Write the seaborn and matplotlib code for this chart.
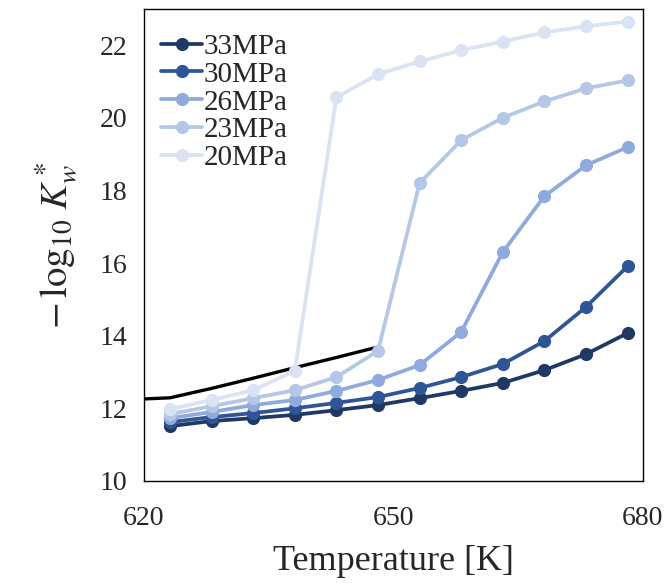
import seaborn as sns
import matplotlib.pyplot as plt
import pandas as pd

# Temperatures (K) and -log10 Kw* per pressure
temperature = [623.15, 628.15, 633.15, 638.15, 643.15, 648.15,
               653.15, 658.15, 663.15, 668.15, 673.15, 678.15]
kw_33 = [11.51, 11.65, 11.73, 11.82, 11.95, 12.09, 12.28, 12.48, 12.70, 13.05, 13.49, 14.07]
kw_30 = [11.62, 11.76, 11.87, 12.00, 12.15, 12.31, 12.56, 12.86, 13.22, 13.85, 14.79, 15.91]
kw_26 = [11.73, 11.90, 12.09, 12.23, 12.48, 12.78, 13.19, 14.10, 16.30, 17.84, 18.69, 19.19]
kw_23 = [11.84, 12.06, 12.28, 12.50, 12.86, 13.58, 18.20, 19.38, 20.00, 20.45, 20.81, 21.03]
kw_20 = [11.98, 12.23, 12.50, 13.03, 20.56, 21.20, 21.55, 21.86, 22.10, 22.35, 22.52, 22.65]

# black reference curve (no legend entry)
ref_temperature = [618.15, 623.15, 628.15, 633.15, 638.15, 643.15, 648.15]
ref_kw = [12.24, 12.29, 12.55, 12.83, 13.12, 13.40, 13.69]

labels = ['33MPa', '30MPa', '26MPa', '23MPa', '20MPa']
series = [kw_33, kw_30, kw_26, kw_23, kw_20]
colors = ['#203864', '#2F5597', '#8FAADC', '#B4C7E7', '#DAE3F3']

sns.set_style('white')
plt.rcParams['font.family'] = ['Liberation Serif', 'DejaVu Serif']
plt.rcParams['mathtext.fontset'] = 'stix'

fig, ax = plt.subplots(figsize=(6.69, 5.88), dpi=100)
fig.subplots_adjust(left=0.215, right=0.961, bottom=0.182, top=0.985)

sns.lineplot(x=ref_temperature, y=ref_kw, color='black', linewidth=2.4, ax=ax)

for lab, vals, c in zip(labels, series, colors):
    df = pd.DataFrame({'T': temperature, 'K': vals})
    sns.lineplot(data=df, x='T', y='K', color=c, marker='o', markersize=9.5,
                 markeredgewidth=0, linewidth=2.7, label=lab, ax=ax)

ax.set_xlim(620, 680)
ax.set_ylim(10, 23)
ax.set_xticks([620, 650, 680])
ax.set_yticks([10, 12, 14, 16, 18, 20, 22])
ax.tick_params(axis='x', labelsize=20, length=0, pad=18)
ax.tick_params(axis='y', labelsize=20, length=0, pad=12)
ax.set_xlabel('Temperature [K]', fontsize=26, labelpad=10)
ax.set_ylabel(r'$-\,\log_{10}\,K_w^*$', fontsize=28, labelpad=14)

for s in ax.spines.values():
    s.set_color('black')
    s.set_linewidth(1.0)

ax.legend(loc='upper left', bbox_to_anchor=(0.0, 0.985), frameon=False,
          fontsize=21, handlelength=1.4, handletextpad=0.05,
          labelspacing=0.05, borderaxespad=0.2, borderpad=0.4)

plt.savefig('out.png', dpi=100)
